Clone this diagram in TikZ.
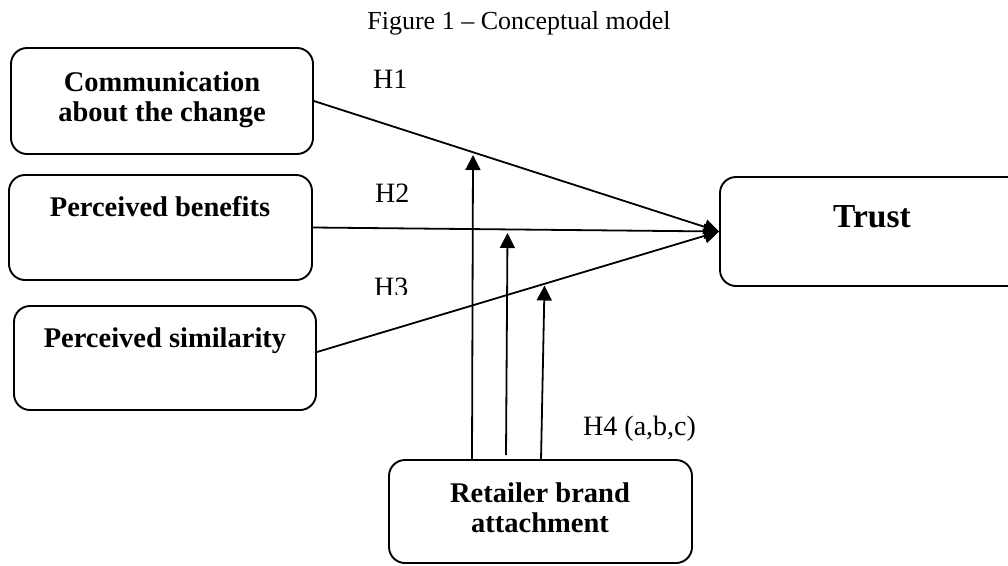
\documentclass[tikz,border=0pt]{standalone}
\usepackage{fontspec}
\setmainfont{Liberation Serif}
\usetikzlibrary{arrows.meta,calc}
\begin{document}
\begin{tikzpicture}[x=1pt,y=-1pt,
  box/.style={draw, line width=1.9pt, rounded corners=16pt, inner sep=0pt},
  btxt/.style={font=\fontsize{28.5}{30}\selectfont\bfseries, align=center, anchor=base, inner sep=0pt},
  hlbl/.style={font=\fontsize{28}{30}\selectfont, anchor=base west, inner sep=0pt},
  conn/.style={line width=1.8pt, -{Triangle[length=15pt,width=15pt]}},
]
\clip (0,0) rectangle (1008,565);
\fill[white] (0,0) rectangle (1008,565);

% title
\node[font=\fontsize{26}{30}\selectfont, anchor=base, inner sep=0pt] (title) at (519,29) {Figure 1 – Conceptual model};

% boxes
\node[box, minimum width=302pt, minimum height=106pt] (b1) at (162,101) {};
\node[box, minimum width=303pt, minimum height=105pt] (b2) at (160.5,227.5) {};
\node[box, minimum width=302pt, minimum height=104pt] (b3) at (165,358) {};
\node[box, minimum width=304pt, minimum height=109pt] (trust) at (872,231.5) {};
\node[box, minimum width=303pt, minimum height=103pt] (ret) at (540.5,511.5) {};

% box texts (base anchor = baseline of last line)
\node[btxt] (t1) at (162,121) {Communication\\about the change};
\node[btxt] (t2) at (160,216) {Perceived benefits};
\node[btxt] (t3) at (165,347) {Perceived similarity};
\node[btxt, font=\fontsize{33.5}{36}\selectfont\bfseries] (t4) at (872,227) {Trust};
\node[btxt] (t5) at (540,532) {Retailer brand\\attachment};

% hypothesis labels
\node[hlbl] (h1) at (373,88) {H1};
\node[hlbl] (h2) at (375,202) {H2};
\begin{scope}
  \clip (300,250) rectangle (460,294);
  \node[hlbl] (h3) at (374,296) {H3};
\end{scope}
\node[hlbl] (h4) at (583,435) {H4 (a,b,c)};

% main connectors
\draw[conn] (b1.east) -- (trust.west);
\draw[conn] (b2.east) -- (trust.west);
\draw[conn] ($(b3.east)+(0,-6)$) -- (trust.west);

% moderating arrows
\coordinate (m1) at (473,155);
\coordinate (m2) at (507.5,233);
\coordinate (m3) at (544.5,285.5);
\coordinate (r1) at (472,460);
\coordinate (r2) at (506,455);
\coordinate (r3) at (541,460);
\draw[conn] (r1) -- (m1);
\draw[conn] (r2) -- (m2);
\draw[conn] (r3) -- (m3);
\end{tikzpicture}
\end{document}
